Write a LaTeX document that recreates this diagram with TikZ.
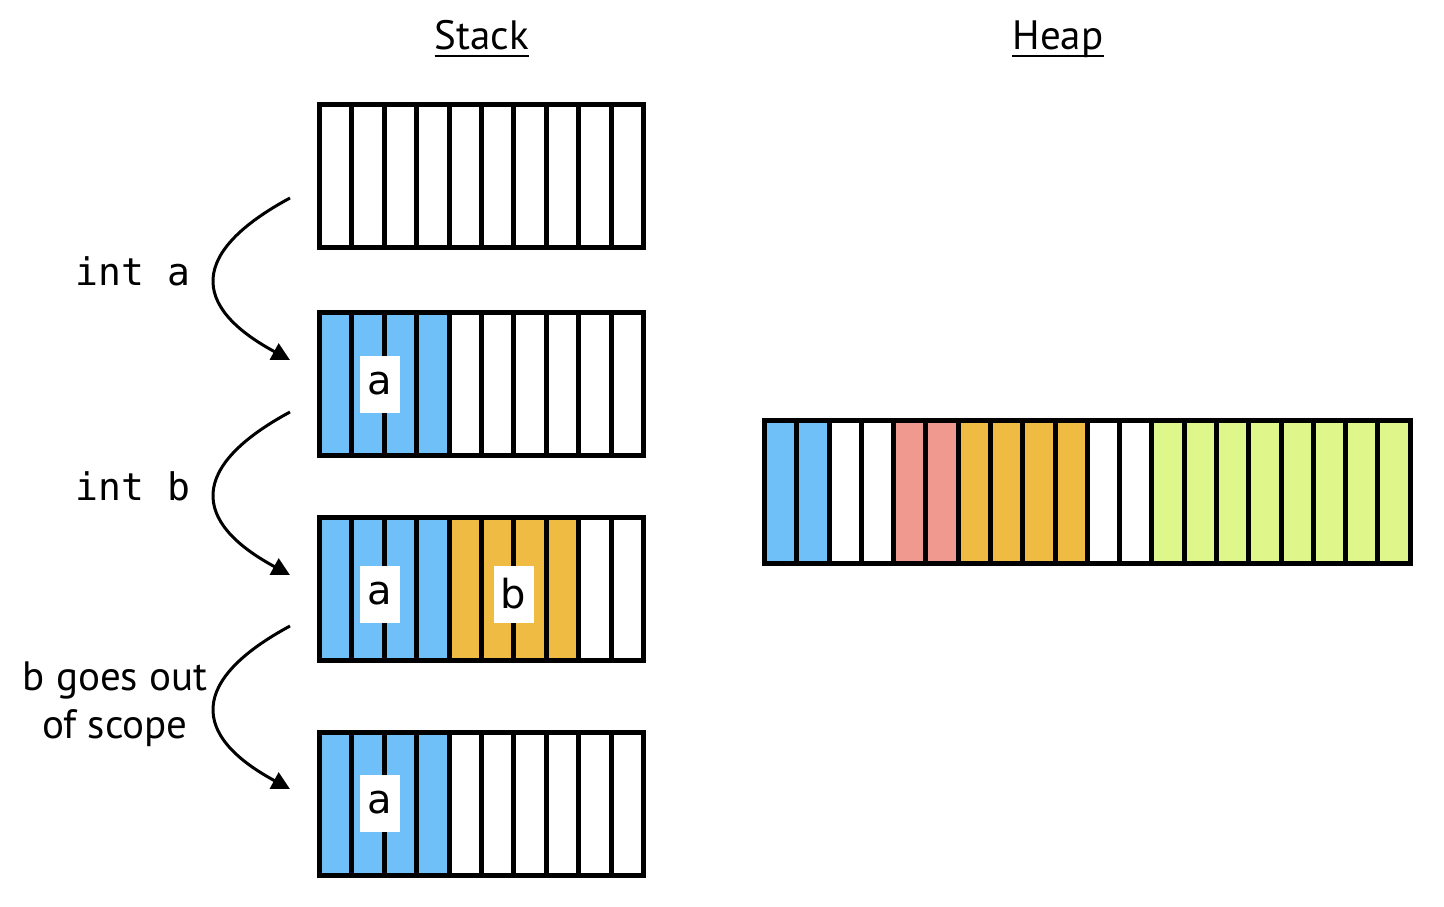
\documentclass[tikz,border=0pt]{standalone}
\usepackage{fontspec}
\setmainfont{PT Sans}
\newfontfamily\monof{DejaVu Sans Mono}
\newfontfamily\labf{DejaVu Sans}
\usetikzlibrary{arrows.meta}
\definecolor{cblue}{HTML}{6FBFF9}
\definecolor{corange}{HTML}{F0BB42}
\definecolor{csalmon}{HTML}{F09A8F}
\definecolor{cgreen}{HTML}{DFF78A}
\newcommand\memrow[5]{% name, x0, y0, cell width, colour list
  \foreach \c [count=\i from 0] in {#5} {
    \fill[\c] ({#2+\i*#4},#3) rectangle ({#2+(\i+1)*#4},#3+143);
    \ifnum\i>0 \draw[cellline] ({#2+\i*#4},#3) -- ({#2+\i*#4},#3+143);\fi
    \xdef\lastcell{\i}
  }
  \draw[cellline] (#2,#3) rectangle ({#2+(\lastcell+1)*#4},#3+143);
  \coordinate (#1) at (#2,#3);
}
\begin{document}
\begin{tikzpicture}[x=0.5pt,y=-0.5pt,
  cellline/.style={line width=2.5pt,line join=miter},
  varlabel/.style={fill=white,minimum width=20pt,minimum height=28.5pt,inner sep=0pt,
    font=\labf\fontsize{20}{24}\selectfont},
  steplabel/.style={font=\monof\fontsize{19}{23}\selectfont,anchor=base},
  sanslabel/.style={font=\fontsize{20.5}{24}\selectfont},
  title/.style={font=\fontsize{20.5}{24}\selectfont,anchor=base,inner sep=0pt},
  flow/.style={line width=1.5pt,-{Triangle[length=9pt,width=9pt]}}]
\useasboundingbox (0,0) rectangle (1444,906);

% Stack rows
\memrow{s1}{319.5}{104.5}{32.4}{white,white,white,white,white,white,white,white,white,white}
\memrow{s2}{319.5}{312.5}{32.4}{cblue,cblue,cblue,cblue,white,white,white,white,white,white}
\memrow{s3}{319.5}{517.5}{32.4}{cblue,cblue,cblue,cblue,corange,corange,corange,corange,white,white}
\memrow{s4}{319.5}{732.5}{32.4}{cblue,cblue,cblue,cblue,white,white,white,white,white,white}

% Heap row
\memrow{h1}{764.5}{420.5}{32.28}{cblue,cblue,white,white,csalmon,csalmon,corange,corange,corange,corange,white,white,cgreen,cgreen,cgreen,cgreen,cgreen,cgreen,cgreen,cgreen}

% variable labels
\node[varlabel] (a2) at (380,384) {a};
\node[varlabel] (a3) at (380,594) {a};
\node[varlabel] (b3) at (513.5,594) {b};
\node[varlabel] (a4) at (380,803) {a};

% titles
\node[title] (stack) at (482,49) {Stack};
\node[title] (heap) at (1058,49) {Heap};
\draw[line width=1.2pt] ([yshift=-3.5pt]stack.base west) -- ([yshift=-3.5pt]stack.base east);
\draw[line width=1.2pt] ([yshift=-3.5pt]heap.base west) -- ([yshift=-3.5pt]heap.base east);

% step labels
\node[steplabel] (inta) at (133,285) {int a};
\node[steplabel] (intb) at (133,500) {int b};
\node[sanslabel,align=center] (scope) at (115,704) {b goes out\\of scope};

% arrows
\coordinate (f1s) at (290,198); \coordinate (f1e) at (290,360);
\coordinate (f2s) at (290,412); \coordinate (f2e) at (290,575);
\coordinate (f3s) at (290,626); \coordinate (f3e) at (290,789);
\draw[flow] (f1s) .. controls (190,252) and (190,306) .. (f1e);
\draw[flow] (f2s) .. controls (190,466) and (190,521) .. (f2e);
\draw[flow] (f3s) .. controls (190,680) and (190,735) .. (f3e);
\end{tikzpicture}
\end{document}
